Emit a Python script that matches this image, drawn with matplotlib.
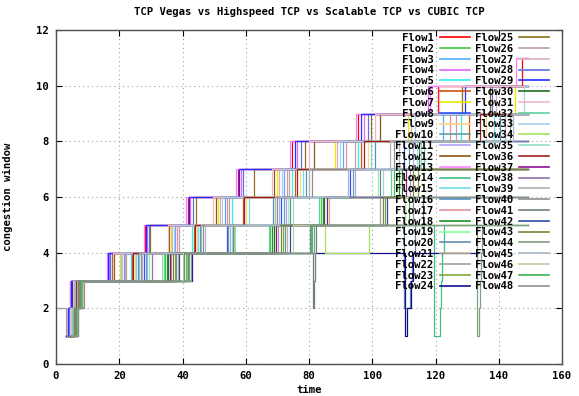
import matplotlib
matplotlib.use("Agg")
import matplotlib.pyplot as plt

# Congestion-window traces: change times (s) and window sizes after each change
flow_times = [
    [3.2, 3.8, 4.4, 16.3, 28.1, 41.6, 57.4, 74.6, 95.6, 120.8, 147.3, 149.4],
    [3.3, 4.4, 5.3, 34.6, 67.8, 83.7, 107.0, 149.4],
    [3.4, 4.0, 4.7, 21.4, 37.7, 53.3, 72.2, 90.8, 122.5, 149.4],
    [3.2, 4.1, 4.9, 16.8, 28.9, 42.5, 58.4, 76.3, 97.5, 117.7, 149.4],
    [3.5, 4.6, 5.6, 23.6, 43.0, 55.5, 74.6, 95.5, 128.0, 149.4],
    [3.3, 4.8, 5.9, 24.1, 43.5, 59.0, 75.5, 96.5, 130.5, 149.4],
    [3.6, 4.3, 5.1, 20.2, 36.3, 51.2, 69.8, 88.2, 111.2, 145.0, 149.4],
    [3.2, 3.9, 4.6, 27.8, 54.0, 71.3, 93.0, 110.0, 149.4],
    [3.7, 4.9, 6.0, 25.0, 44.5, 60.2, 77.2, 98.6, 136.0, 149.4],
    [3.4, 4.5, 5.5, 28.4, 54.5, 72.0, 93.8, 111.5, 149.4],
    [3.5, 4.2, 5.0, 28.9, 55.0, 72.7, 94.6, 113.0, 149.4],
    [3.8, 5.1, 6.3, 18.2, 35.8, 50.5, 69.0, 81.5, 102.5, 137.3, 149.4],
    [3.2, 3.7, 4.5, 16.0, 27.8, 41.2, 57.0, 74.0, 95.0, 118.3, 145.5, 149.4],
    [3.6, 4.7, 5.8, 42.2, 81.0, 119.6, 121.4, 121.8, 122.2, 122.7, 149.4],
    [3.3, 4.3, 5.2, 25.4, 45.0, 60.9, 78.0, 99.7, 138.5, 149.4],
    [3.9, 5.0, 6.1, 25.9, 45.5, 68.7, 79.0, 100.8, 140.5, 149.4],
    [3.4, 4.6, 5.4, 21.8, 38.3, 54.0, 73.0, 91.7, 124.5, 149.4],
    [3.7, 5.2, 6.5, 35.0, 68.4, 84.3, 108.5, 149.4],
    [3.5, 4.4, 5.3, 29.5, 55.5, 73.4, 101.8, 114.0, 149.4],
    [4.0, 5.3, 6.6, 38.1, 72.5, 110.0, 112.0, 112.6, 113.4, 116.0, 149.4],
    [3.6, 5.0, 6.2, 38.6, 73.2, 86.2, 149.4],
    [0.0, 3.1, 6.9, 7.8, 36.5, 70.3, 102.6, 112.0, 149.4],
    [3.8, 5.4, 6.8, 37.6, 71.8, 104.0, 114.5, 149.4],
    [3.3, 4.2, 5.0, 43.0, 110.4, 110.9, 112.4, 112.9, 133.4],
    [4.1, 5.6, 7.0, 17.6, 29.7, 44.2, 62.5, 78.6, 99.6, 128.3, 149.4],
    [3.5, 4.8, 5.7, 22.2, 38.9, 54.8, 73.8, 94.6, 126.5, 149.4],
    [3.9, 5.2, 6.4, 20.6, 36.7, 51.9, 70.6, 89.0, 112.3, 139.0, 149.4],
    [3.4, 4.1, 4.8, 17.2, 29.3, 43.3, 59.0, 77.4, 98.5, 138.0, 149.4],
    [3.2, 3.9, 4.6, 16.5, 28.5, 42.0, 57.9, 75.5, 96.6, 129.3, 149.4],
    [4.2, 5.7, 7.2, 35.5, 69.0, 84.9, 109.5, 149.4],
    [3.6, 4.5, 5.5, 17.9, 35.4, 49.8, 68.2, 80.0, 101.0, 121.2, 149.4],
    [4.0, 5.5, 6.7, 34.1, 67.2, 83.1, 106.0, 116.5, 149.4],
    [3.7, 4.8, 5.9, 21.0, 37.2, 52.6, 71.4, 89.9, 113.5, 148.0, 149.4],
    [4.3, 5.9, 7.4, 41.4, 56.2, 85.0, 99.0, 149.4],
    [3.8, 5.0, 6.0, 33.6, 56.6, 74.8, 103.4, 115.5, 149.4],
    [4.1, 5.3, 6.3, 24.5, 44.0, 59.6, 76.3, 97.5, 134.2, 149.4],
    [3.9, 5.6, 6.9, 36.0, 69.6, 85.6, 110.8, 149.4],
    [4.4, 6.1, 7.6, 30.3, 56.0, 74.1, 102.5, 114.8, 149.4],
    [4.2, 5.4, 6.5, 26.3, 46.0, 69.3, 80.0, 105.5, 142.0, 149.4],
    [4.5, 6.3, 7.9, 26.8, 46.5, 70.0, 81.0, 107.0, 143.5, 149.4],
    [4.0, 5.8, 7.1, 41.8, 81.2, 81.5, 81.8, 82.3, 149.4],
    [4.6, 6.5, 8.1, 39.0, 74.0, 104.8, 149.4],
    [4.3, 6.0, 7.3, 37.0, 71.0, 103.3, 113.0, 149.4],
    [4.7, 6.7, 8.3, 42.6, 81.6, 133.2, 133.8, 134.1, 134.4, 134.8, 149.4],
    [4.4, 6.2, 7.5, 27.3, 47.0, 70.6, 92.2, 108.5, 144.5, 149.4],
    [4.8, 6.8, 8.5, 40.0, 74.8, 110.2, 149.4],
    [4.5, 6.4, 7.7, 40.5, 80.2, 111.5, 149.4],
    [5.0, 7.0, 8.8, 41.0, 80.7, 113.0, 149.4],
]

flow_cwnd = [
    [1, 2, 3, 4, 5, 6, 7, 8, 9, 10, 11, 11],
    [1, 2, 3, 4, 5, 6, 7, 7],
    [1, 2, 3, 4, 5, 6, 7, 8, 9, 9],
    [1, 2, 3, 4, 5, 6, 7, 8, 9, 10, 10],
    [1, 2, 3, 4, 5, 6, 7, 8, 9, 9],
    [1, 2, 3, 4, 5, 6, 7, 8, 9, 9],
    [1, 2, 3, 4, 5, 6, 7, 8, 9, 10, 10],
    [1, 2, 3, 4, 5, 6, 7, 8, 8],
    [1, 2, 3, 4, 5, 6, 7, 8, 9, 9],
    [1, 2, 3, 4, 5, 6, 7, 8, 8],
    [1, 2, 3, 4, 5, 6, 7, 8, 8],
    [1, 2, 3, 4, 5, 6, 7, 8, 9, 10, 10],
    [1, 2, 3, 4, 5, 6, 7, 8, 9, 10, 11, 11],
    [1, 2, 3, 4, 5, 1, 2, 3, 4, 5, 5],
    [1, 2, 3, 4, 5, 6, 7, 8, 9, 9],
    [1, 2, 3, 4, 5, 6, 7, 8, 9, 9],
    [1, 2, 3, 4, 5, 6, 7, 8, 9, 9],
    [1, 2, 3, 4, 5, 6, 7, 7],
    [1, 2, 3, 4, 5, 6, 7, 8, 8],
    [1, 2, 3, 4, 5, 2, 3, 4, 5, 6, 6],
    [1, 2, 3, 4, 5, 6, 6],
    [2, 1, 2, 3, 4, 5, 6, 7, 7],
    [1, 2, 3, 4, 5, 6, 7, 7],
    [1, 2, 3, 4, 1, 2, 3, 4, 4],
    [1, 2, 3, 4, 5, 6, 7, 8, 9, 10, 10],
    [1, 2, 3, 4, 5, 6, 7, 8, 9, 9],
    [1, 2, 3, 4, 5, 6, 7, 8, 9, 10, 10],
    [1, 2, 3, 4, 5, 6, 7, 8, 9, 10, 10],
    [1, 2, 3, 4, 5, 6, 7, 8, 9, 10, 10],
    [1, 2, 3, 4, 5, 6, 7, 7],
    [1, 2, 3, 4, 5, 6, 7, 8, 9, 10, 10],
    [1, 2, 3, 4, 5, 6, 7, 8, 8],
    [1, 2, 3, 4, 5, 6, 7, 8, 9, 10, 10],
    [1, 2, 3, 4, 5, 4, 5, 5],
    [1, 2, 3, 4, 5, 6, 7, 8, 8],
    [1, 2, 3, 4, 5, 6, 7, 8, 9, 9],
    [1, 2, 3, 4, 5, 6, 7, 7],
    [1, 2, 3, 4, 5, 6, 7, 8, 8],
    [1, 2, 3, 4, 5, 6, 7, 8, 9, 9],
    [1, 2, 3, 4, 5, 6, 7, 8, 9, 9],
    [1, 2, 3, 4, 2, 3, 4, 5, 5],
    [1, 2, 3, 4, 5, 6, 6],
    [1, 2, 3, 4, 5, 6, 7, 7],
    [1, 2, 3, 4, 5, 1, 2, 3, 4, 5, 5],
    [1, 2, 3, 4, 5, 6, 7, 8, 9, 9],
    [1, 2, 3, 4, 5, 6, 6],
    [1, 2, 3, 4, 5, 6, 6],
    [1, 2, 3, 4, 5, 6, 6],
]

flow_labels = [f"Flow{i}" for i in range(1, 49)]

flow_colors = [
    "#ff0000", "#40c840", "#55aaff", "#e066ff", "#33eeee", "#d05010",
    "#e8e800", "#3050ff", "#ffd080", "#60a0a0", "#b0a0ff", "#8b5513",
    "#ff80ff", "#40c080", "#70e0e0", "#5090c0", "#e090a0", "#209020",
    "#80ffa0", "#6090b0", "#c8b890", "#a0a0a0", "#80a840", "#101090",
    "#8b7020", "#c0a0a0", "#d8b0c0", "#6070e0", "#2030ff", "#207020",
    "#f0b8c8", "#60d0a0", "#a8d0e8", "#a8e060", "#90e0c0", "#a02020",
    "#901090", "#9070b0", "#b0b0b0", "#909090", "#708080", "#3050a0",
    "#808040", "#80a080", "#a8b8c8", "#d0c8a0", "#40b050", "#909090",
]

x_ticks = [0, 20, 40, 60, 80, 100, 120, 140, 160]
y_ticks = [0, 2, 4, 6, 8, 10, 12]

font = dict(family="DejaVu Sans Mono", weight="bold", size=7.7)

fig = plt.figure(figsize=(5.79, 3.96), dpi=100)
ax = fig.add_axes([56 / 579, 1 - 364 / 396, 506 / 579, 334 / 396])

for t, w, c, lab in zip(flow_times, flow_cwnd, flow_colors, flow_labels):
    ax.step(t, w, where="post", color=c, linewidth=0.9, label=lab)

ax.set_xlim(0, 160)
ax.set_ylim(0, 12)
ax.set_xticks(x_ticks)
ax.set_yticks(y_ticks)
ax.set_xticklabels([str(v) for v in x_ticks], fontdict=font)
ax.set_yticklabels([str(v) for v in y_ticks], fontdict=font)
ax.tick_params(direction="in", length=4, width=0.8, top=True, right=True,
               colors="black", pad=5)
ax.grid(True, linestyle=(0, (1, 3)), color="#a0a0a0", linewidth=0.8)
for s in ax.spines.values():
    s.set_color("#505050")
    s.set_linewidth(1.0)

ax.set_title("TCP Vegas vs Highspeed TCP vs Scalable TCP vs CUBIC TCP",
             fontdict=font, pad=11)
ax.set_xlabel("time", fontdict=font, labelpad=3)
ax.set_ylabel("congestion window", fontdict=font, labelpad=17)

leg = ax.legend(loc="upper right", bbox_to_anchor=(549 / 579, 1 - 33 / 396),
                bbox_transform=fig.transFigure, ncol=2, frameon=False,
                markerfirst=False, prop=dict(family="DejaVu Sans Mono",
                                             weight="bold", size=7.7),
                handlelength=2.8, handletextpad=0.55, columnspacing=0.5,
                labelspacing=0.075, borderpad=0, borderaxespad=0)
for h in leg.get_lines():
    h.set_linewidth(1.2)

fig.savefig("out.png", dpi=100)
